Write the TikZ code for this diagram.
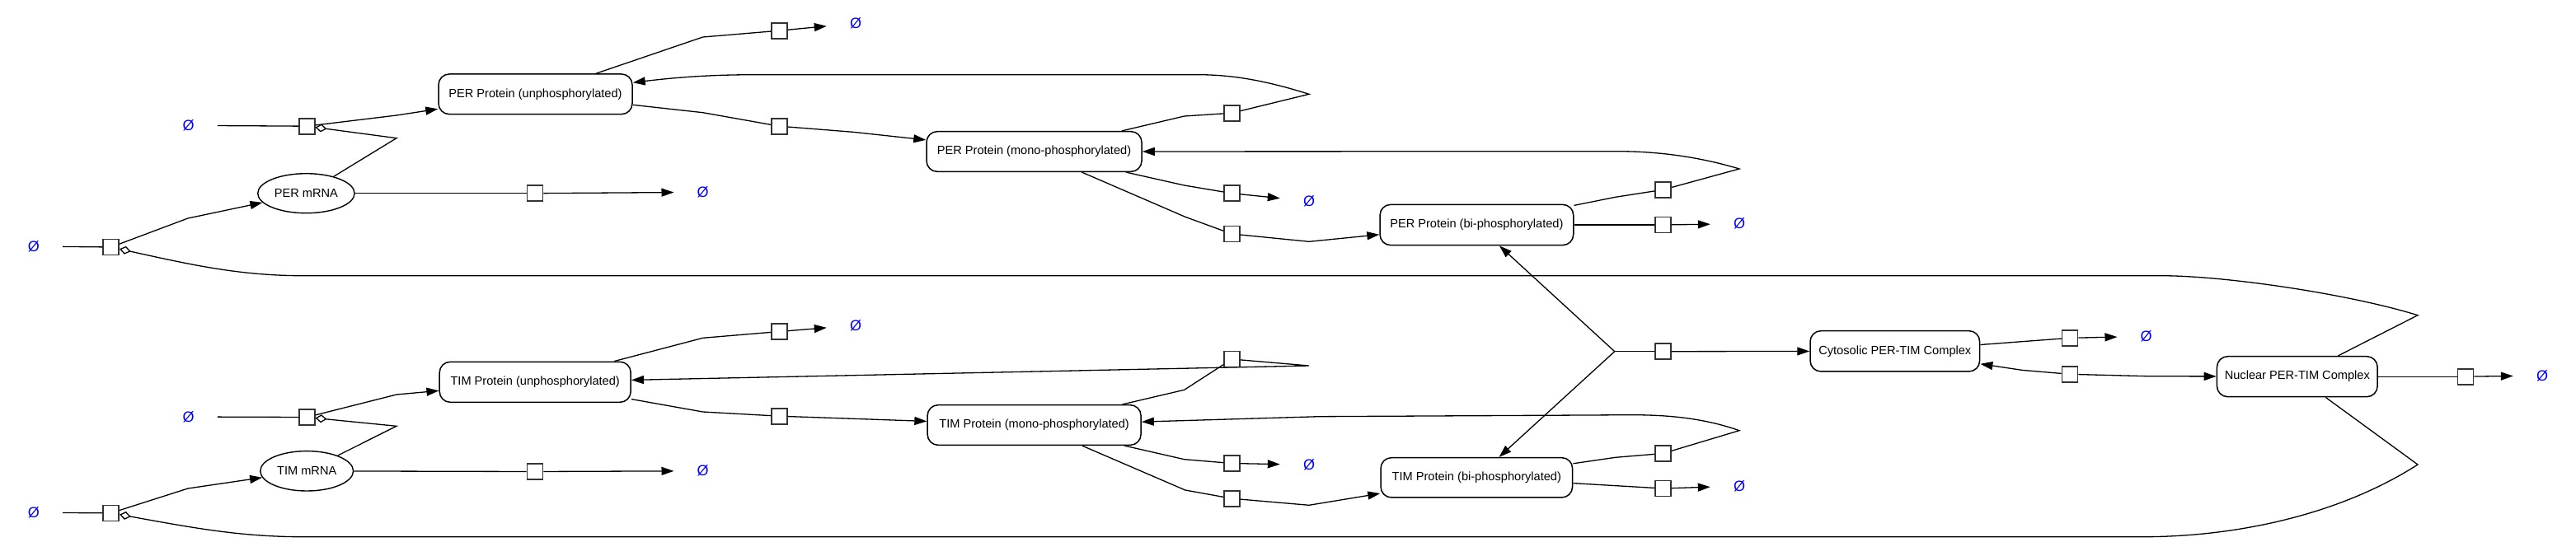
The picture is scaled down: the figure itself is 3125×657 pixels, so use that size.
\documentclass[tikz,border=0pt]{standalone}
\usepackage{fontspec}
\setmainfont{Liberation Sans}
\usetikzlibrary{arrows.meta,shapes.geometric}
\begin{document}
\begin{tikzpicture}[x=1pt,y=-1pt,
  species/.style={draw, line width=1.5pt, rounded corners=13pt, minimum height=48.7pt, inner xsep=6pt, inner ysep=2pt, fill=white, font=\fontsize{14.6}{16}\selectfont},
  mrna/.style={ellipse, draw, line width=1.4pt, inner sep=0pt, fill=white, font=\fontsize{14.6}{16}\selectfont},
  pbox/.style={draw=black!80, line width=1.6pt, fill=white, minimum size=19pt, inner sep=0pt},
  sink/.style={text=blue, minimum width=70pt, minimum height=20pt, inner sep=0pt, font=\fontsize{18}{20}\selectfont},
  conn/.style={line width=1.3pt},
  prod/.style={conn, -{Triangle[length=15pt,width=10pt]}},
  modu/.style={conn, -{Diamond[open,length=14pt,width=10pt]}}]
\useasboundingbox (0,0) rectangle (3125,657);
% species
\node[species, minimum width=235pt] (PERu) at (649.5,114.3) {PER Protein (unphosphorylated)};
\node[species, minimum width=261pt] (PERm) at (1254.5,184) {PER Protein (mono-phosphorylated)};
\node[species, minimum width=234.7pt, minimum height=49.3pt] (PERb) at (1791.4,273) {PER Protein (bi-phosphorylated)};
\node[species, minimum width=232pt, minimum height=49pt] (TIMu) at (649.2,463.8) {TIM Protein (unphosphorylated)};
\node[species, minimum width=259pt] (TIMm) at (1254.6,516) {TIM Protein (mono-phosphorylated)};
\node[species, minimum width=232.6pt, minimum height=48.3pt] (TIMb) at (1791.3,579.8) {TIM Protein (bi-phosphorylated)};
\node[species, minimum width=205.6pt, minimum height=49.3pt] (Cyto) at (2298.8,426.3) {Cytosolic PER-TIM Complex};
\node[species, minimum width=194.7pt, minimum height=49pt] (Nuc) at (2786.8,457.2) {Nuclear PER-TIM Complex};
\node[mrna, minimum width=117.4pt, minimum height=48pt] (PERr) at (371.4,234.7) {PER mRNA};
\node[mrna, minimum width=112.8pt, minimum height=48.4pt] (TIMr) at (372.2,571.8) {TIM mRNA};
% process boxes
\node[pbox] (p1) at (134.7,300) {};
\node[pbox] (p2) at (372.2,153.2) {};
\node[pbox] (p3) at (649,234.7) {};
\node[pbox] (p4) at (945.5,37.2) {};
\node[pbox] (p5) at (945.5,153.2) {};
\node[pbox] (p6) at (1494.4,137.2) {};
\node[pbox] (p7) at (1494.4,234.7) {};
\node[pbox] (p8) at (1494.4,284) {};
\node[pbox] (p9) at (2017.6,230.3) {};
\node[pbox] (p10) at (2017.3,273) {};
\node[pbox] (p11) at (2017.3,426.7) {};
\node[pbox] (p12) at (2511,410.3) {};
\node[pbox] (p13) at (2511,454.3) {};
\node[pbox] (p14) at (2991,457.2) {};
\node[pbox] (t1) at (134.7,622.8) {};
\node[pbox] (t2) at (372.2,506.5) {};
\node[pbox] (t3) at (649,572.5) {};
\node[pbox] (t4) at (945.5,402.5) {};
\node[pbox] (t5) at (945.5,505.2) {};
\node[pbox] (t6) at (1494.4,436) {};
\node[pbox] (t7) at (1494.4,562.5) {};
\node[pbox] (t8) at (1494.4,605.2) {};
\node[pbox] (t9) at (2017.3,550.5) {};
\node[pbox] (t10) at (2017.3,593) {};
% empty sets
\node[sink] (e1) at (40.8,299) {Ø};
\node[sink] (e2) at (228.6,152.3) {Ø};
\node[sink] (e3) at (852.7,233.3) {Ø};
\node[sink] (e4) at (1038,28.3) {Ø};
\node[sink] (e5) at (1588,244.3) {Ø};
\node[sink] (e6) at (2110,271.7) {Ø};
\node[sink] (e7) at (2603.7,408.3) {Ø};
\node[sink] (e8) at (3084,456) {Ø};
\node[sink] (e9) at (40.8,622.3) {Ø};
\node[sink] (e10) at (228.6,506) {Ø};
\node[sink] (e11) at (852.7,571.7) {Ø};
\node[sink] (e12) at (1038,395) {Ø};
\node[sink] (e13) at (1588,564.3) {Ø};
\node[sink] (e14) at (2110,590) {Ø};
% waypoints PER
\coordinate (a1) at (228,265);
\coordinate (a2) at (481,167.7);
\coordinate (a3) at (481,140);
\coordinate (a4) at (852.6,45);
\coordinate (a5) at (852.6,136.7);
\coordinate (a6) at (1034.7,160.3);
\coordinate (a7) at (1436.7,141);
\coordinate (a8) at (1588,114.3);
\coordinate (a9) at (1453,90.7);
\coordinate (a10) at (917,90.7);
\coordinate (a11) at (1436.7,225);
\coordinate (a12) at (1437.8,263.3);
\coordinate (a13) at (1588,293.3);
\coordinate (a14) at (1959.7,239.3);
\coordinate (a15) at (2110,205);
\coordinate (a16) at (1962,183.7);
\coordinate (j) at (1958.7,426.7);
\coordinate (a17) at (2452.6,449.3);
\coordinate (a18) at (2605,456.7);
\coordinate (n1) at (2933,382.7);
\coordinate (n2) at (2621,334.7);
\coordinate (n3) at (367,334.7);
\coordinate (n4) at (2933,564);
\coordinate (n5) at (2600,651.7);
\coordinate (n6) at (367,651.7);
% waypoints TIM
\coordinate (b1) at (228,593);
\coordinate (b2) at (481,517.3);
\coordinate (b3) at (481,479);
\coordinate (b4) at (852.6,410.3);
\coordinate (b5) at (852.6,500);
\coordinate (b6) at (1034.7,508.3);
\coordinate (b7) at (1436.7,473.3);
\coordinate (b8) at (1588,444);
\coordinate (b11) at (1436.7,557.7);
\coordinate (b12) at (1437.8,595);
\coordinate (b13) at (1588,613.3);
\coordinate (b14) at (1959.7,555.3);
\coordinate (b15) at (2110,522.7);
\coordinate (b16) at (1977.6,503.7);
\coordinate (b17) at (1600,505.7);
% PER connectors
\draw[conn] (e1) -- (p1);
\draw[prod] (p1) -- (a1) -- (PERr);
\draw[modu] (PERr) -- (a2) -- (p2);
\draw[conn] (e2) -- (p2);
\draw[prod] (p2) -- (a3) -- (PERu);
\draw[conn] (PERr) -- (p3);
\draw[prod] (p3) -- (e3);
\draw[conn] (PERu) -- (a4) -- (p4);
\draw[prod] (p4) -- (e4);
\draw[conn] (PERu) -- (a5) -- (p5);
\draw[prod] (p5) -- (a6) -- (PERm);
\draw[conn] (PERm) -- (a7) -- (p6);
\draw[prod] (p6) -- (a8) .. controls (1530,96) and (1490,90.7) .. (a9) -- (a10) .. controls (860,90.7) and (820,94) .. (PERu);
\draw[conn] (PERm) -- (a11) -- (p7);
\draw[prod] (p7) -- (e5);
\draw[conn] (PERm) -- (a12) -- (p8);
\draw[prod] (p8) -- (a13) -- (PERb);
\draw[conn] (PERb) -- (a14) -- (p9);
\draw[prod] (p9) -- (a15) .. controls (2060,190) and (2010,183.7) .. (a16) -- (PERm);
\draw[conn] (PERb) -- (p10);
\draw[prod] (p10) -- (e6);
\draw[prod] (j) -- (PERb);
\draw[prod] (j) -- (TIMb);
\draw[conn] (j) -- (p11);
\draw[prod] (p11) -- (Cyto);
\draw[conn] (Cyto) -- (p12);
\draw[prod] (p12) -- (e7);
\draw[prod] (p13) -- (a17) -- (Cyto);
\draw[prod] (p13) -- (a18) -- (Nuc);
\draw[conn] (Nuc) -- (p14);
\draw[prod] (p14) -- (e8);
\draw[modu] (Nuc) -- (n1) .. controls (2850,357) and (2700,334.7) .. (n2) -- (n3) .. controls (290,334.7) and (230,321) .. (p1);
\draw[modu] (Nuc) -- (n4) .. controls (2830,630) and (2700,651.7) .. (n5) -- (n6) .. controls (290,651.7) and (230,640) .. (t1);
% TIM connectors
\draw[conn] (e9) -- (t1);
\draw[prod] (t1) -- (b1) -- (TIMr);
\draw[modu] (TIMr) -- (b2) -- (t2);
\draw[conn] (e10) -- (t2);
\draw[prod] (t2) -- (b3) -- (TIMu);
\draw[conn] (TIMr) -- (t3);
\draw[prod] (t3) -- (e11);
\draw[conn] (TIMu) -- (b4) -- (t4);
\draw[prod] (t4) -- (e12);
\draw[conn] (TIMu) -- (b5) -- (t5);
\draw[prod] (t5) -- (b6) -- (TIMm);
\draw[conn] (TIMm) -- (b7) -- (t6);
\draw[prod] (t6) -- (b8) -- (TIMu);
\draw[conn] (TIMm) -- (b11) -- (t7);
\draw[prod] (t7) -- (e13);
\draw[conn] (TIMm) -- (b12) -- (t8);
\draw[prod] (t8) -- (b13) -- (TIMb);
\draw[conn] (TIMb) -- (b14) -- (t9);
\draw[prod] (t9) -- (b15) .. controls (2060,505) and (2010,503.7) .. (b16) -- (b17) -- (TIMm);
\draw[conn] (TIMb) -- (t10);
\draw[prod] (t10) -- (e14);
\end{tikzpicture}
\end{document}
